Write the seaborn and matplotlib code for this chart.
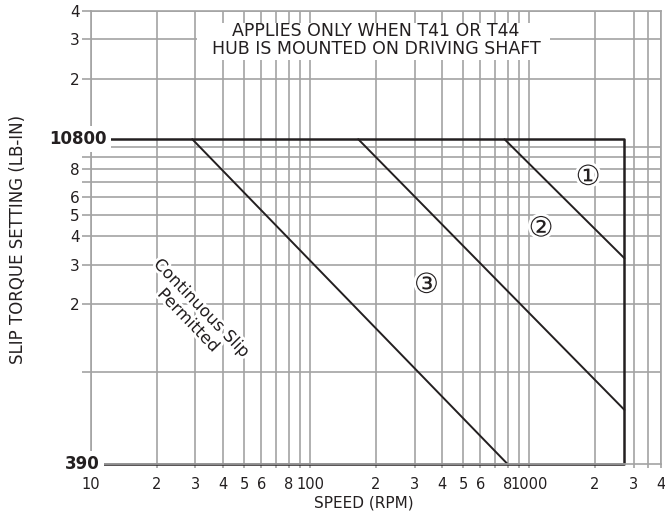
import pandas as pd
import seaborn as sns
import matplotlib.pyplot as plt
from matplotlib.patches import Rectangle
from matplotlib.ticker import FixedLocator, FixedFormatter, NullLocator
import matplotlib.patheffects as pe

# Axis ticks / labels (log scales)
speed_ticks = [10, 20, 30, 40, 50, 60, 70, 80, 90, 100, 200, 300, 400, 500,
               600, 700, 800, 900, 1000, 2000, 3000, 3500, 4000]
speed_tick_labels = ["10", "2", "3", "4", "5", "6", "", "8", "", "100", "2", "3",
                     "4", "5", "6", "", "8", "", "1000", "2", "3", "", "4"]
torque_ticks = [1000, 2000, 3000, 4000, 5000, 6000, 7000, 8000, 9000, 10000,
                20000, 30000, 40000]
torque_tick_labels = ["", "2", "3", "4", "5", "6", "", "8", "", "", "2", "3", "4"]

# Slip limit curves (constant power lines)
curve_ids = ["1", "2", "3"]
curve_speed_start = [772, 166, 29]
curve_speed_end = [2725, 2725, 800]
curve_torque_start = [10800, 10800, 10800]
curve_torque_end = [3200, 680, 390]

# Operating envelope
max_torque = 10800
min_torque = 390
max_speed = 2725
min_speed = 10

GRID = "#a3a3a3"
INK = "#231f20"

sns.set_theme(style="white")
plt.rcParams["font.family"] = ["DejaVu Sans"]

rows = []
for cid, s0, s1, t0, t1 in zip(curve_ids, curve_speed_start, curve_speed_end,
                               curve_torque_start, curve_torque_end):
    rows.append({"curve": cid, "speed": s0, "torque": t0})
    rows.append({"curve": cid, "speed": s1, "torque": t1})
curves = pd.DataFrame(rows)

box = pd.DataFrame({
    "speed": [min_speed, max_speed, max_speed, min_speed],
    "torque": [max_torque, max_torque, min_torque, min_torque],
})

fig = plt.figure(figsize=(6.65, 5.17), dpi=100)
ax = fig.add_axes([0.1368, 0.1019, 0.8571, 0.8768])
ax.set_xscale("log")
ax.set_yscale("log")
ax.set_xlim(10, 4000)
ax.set_ylim(390, 40000)

ax.xaxis.set_major_locator(FixedLocator(speed_ticks))
ax.xaxis.set_major_formatter(FixedFormatter(speed_tick_labels))
ax.xaxis.set_minor_locator(NullLocator())
ax.yaxis.set_major_locator(FixedLocator(torque_ticks))
ax.yaxis.set_major_formatter(FixedFormatter(torque_tick_labels))
ax.yaxis.set_minor_locator(NullLocator())

ax.set_axisbelow(True)
ax.grid(True, which="major", color=GRID, lw=1.2)
for sp in ax.spines.values():
    sp.set_color(GRID)
    sp.set_linewidth(1.2)
ax.tick_params(axis="y", length=6.5, width=1.2, color=GRID, pad=1.5,
               labelsize=11, labelcolor=INK, left=True)
ax.tick_params(axis="x", length=3, width=1.2, color=GRID, pad=6,
               labelsize=10.5, labelcolor=INK, bottom=True)

# curves and envelope
sns.lineplot(data=curves, x="speed", y="torque", units="curve", estimator=None,
             sort=False, color=INK, lw=1.4, ax=ax, legend=False)
sns.lineplot(data=box, x="speed", y="torque", estimator=None, sort=False,
             color=INK, lw=1.8, ax=ax, legend=False)
ax.lines[-1].set_clip_on(False)
ax.set_xlabel("")
ax.set_ylabel("")

# special torque labels
halo_box = dict(boxstyle="square,pad=0.25", fc="white", ec="none")
ax.text(0.028, max_torque, "10800", transform=ax.get_yaxis_transform(),
        ha="right", va="center", fontsize=12, fontweight="bold", color=INK,
        bbox=halo_box, zorder=6)
ax.text(0.016, min_torque, "390", transform=ax.get_yaxis_transform(),
        ha="right", va="center", fontsize=12, fontweight="bold", color=INK,
        bbox=halo_box, zorder=6)

# note box at top
ax.add_patch(Rectangle((0.186, 0.892), 0.619, 0.0815, transform=ax.transAxes,
                       fc="white", ec="none", zorder=1))
ax.text(0.5, 0.936, "APPLIES ONLY WHEN T41 OR T44\nHUB IS MOUNTED ON DRIVING SHAFT",
        transform=ax.transAxes, ha="center", va="center", fontsize=12.5,
        color=INK, linespacing=1.0, zorder=6)

halo = [pe.withStroke(linewidth=4, foreground="white")]
ax.text(0.1825, 0.3316, "Continuous Slip\nPermitted", transform=ax.transAxes,
        ha="center", va="center", rotation=-46, rotation_mode="anchor",
        multialignment="center", fontsize=12, color=INK, linespacing=1.0,
        path_effects=halo, zorder=6)

# curve markers
for label, (sx, ty) in zip(["\u2460", "\u2461", "\u2462"],
                           [(1860, 7340), (1134, 4340), (340, 2437)]):
    ax.text(sx, ty, label, ha="center", va="center", fontsize=20, color=INK,
            path_effects=halo, zorder=6)

fig.text(18 / 665, 1 - 239 / 517, "SLIP TORQUE SETTING (LB-IN)", rotation=90,
         ha="center", va="center", fontsize=12, color=INK)
fig.text(364 / 665, 1 - 503 / 517, "SPEED (RPM)", ha="center", va="center",
         fontsize=11, color=INK)

fig.savefig("out.png", dpi=100)
